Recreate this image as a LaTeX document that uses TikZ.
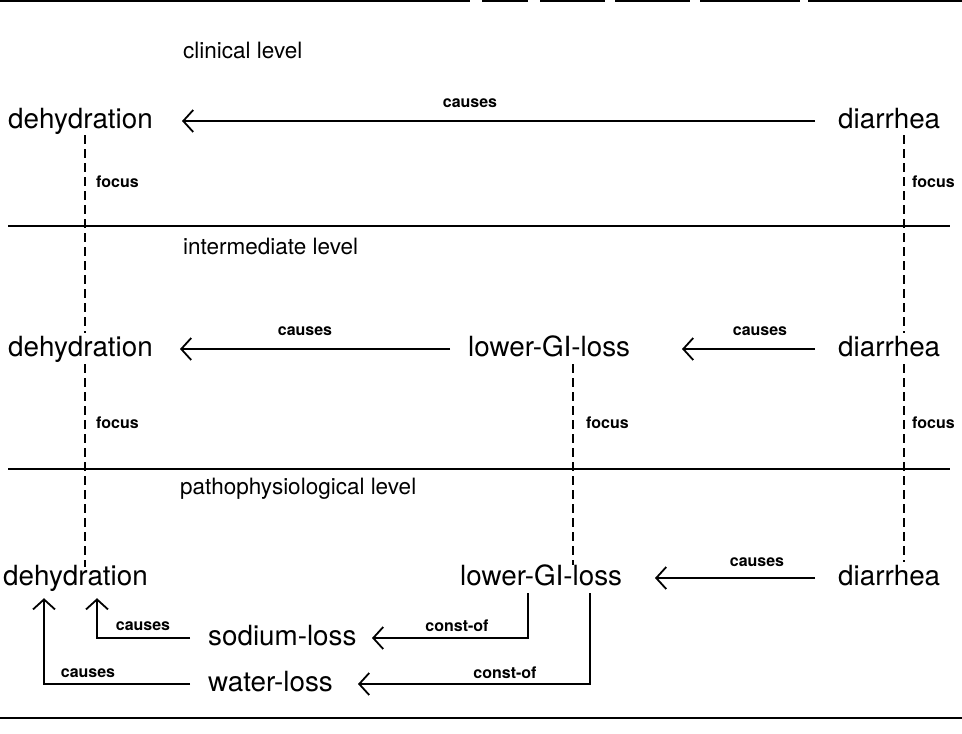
\documentclass[tikz,border=0pt]{standalone}
\usepackage{fontspec}
\setmainfont{TeX Gyre Heros}
\usetikzlibrary{arrows.meta,calc}
\newcommand\mainf{\fontsize{27.8}{30}\selectfont}
\newcommand\lvlf{\fontsize{22.5}{25}\selectfont}
\newcommand\lblf{\fontsize{16}{18}\selectfont\bfseries}
\begin{document}
\begin{tikzpicture}[x=1pt,y=-1pt,
  mainnode/.style={font=\mainf, inner sep=0pt, anchor=base west, text height=20pt, text depth=6pt},
  lvlnode/.style={font=\lvlf, inner sep=0pt, anchor=west},
  lblnode/.style={font=\lblf, inner sep=0pt},
  arr/.style={line width=1.6pt, -{Straight Barb[length=10pt,width=22pt,line width=1.8pt]}},
  plainline/.style={line width=1.6pt},
  focusline/.style={line width=2.6pt, dash pattern=on 9pt off 5pt},
  rule/.style={line width=1.8pt}]
\useasboundingbox (0,0) rectangle (962,734);
\fill[white] (0,0) rectangle (962,734);

% page rules
\draw[rule] (0,1) -- (470,1) (482,1) -- (528,1) (540,1) -- (605,1) (615,1) -- (690,1) (700,1) -- (800,1) (808,1) -- (962,1);
\draw[rule] (0,718) -- (962,718);

% level labels and separators
\node[lvlnode] (lvl1) at (183,50) {clinical level};
\node[lvlnode] (lvl2) at (183,246) {intermediate level};
\node[lvlnode] (lvl3) at (180,489) {pathophysiological level};
\draw[plainline] (8,226) -- (950,226);
\draw[plainline] (8,469) -- (950,469);

% row 1
\node[mainnode] (deh1) at (8,128) {dehydration};
\node[mainnode] (dia1) at (838,128) {diarrhea};
% row 2
\node[mainnode] (deh2) at (8,356) {dehydration};
\node[mainnode] (lgl2) at (468,356) {lower-GI-loss};
\node[mainnode] (dia2) at (838,356) {diarrhea};
% row 3
\node[mainnode] (deh3) at (3,585) {dehydration};
\node[mainnode] (lgl3) at (460,585) {lower-GI-loss};
\node[mainnode] (dia3) at (838,585) {diarrhea};
\node[mainnode] (sod) at (208,645) {sodium-loss};
\node[mainnode] (wat) at (208,691) {water-loss};

% causes arrows
\draw[arr] ($(dia1.west)+(-23,0)$) -- ($(deh1.west)+(174,0)$);
\node[lblnode] (c1) at (470,103) {causes};
\draw[arr] ($(lgl2.west)+(-18,0)$) -- ($(deh2.west)+(172,0)$);
\node[lblnode] (c2) at (305,331) {causes};
\draw[arr] ($(dia2.west)+(-23,0)$) -- ($(lgl2.west)+(214,0)$);
\node[lblnode] (c3) at (760,331) {causes};
\draw[arr] ($(dia3.west)+(-23,0)$) -- ($(lgl3.west)+(195,0)$);
\node[lblnode] (c4) at (757,562) {causes};

% focus links
\draw[focusline] ($(deh1.south west)+(77,1)$) -- ($(deh2.north west)+(77,-3)$);
\draw[focusline] ($(deh2.south west)+(77,2)$) -- ($(deh3.north west)+(82,2)$);
\draw[focusline] ($(dia1.south west)+(66,1)$) -- ($(dia2.north west)+(66,-3)$);
\draw[focusline] ($(dia2.south west)+(66,2)$) -- ($(dia3.north west)+(66,-3)$);
\draw[focusline] ($(lgl2.south west)+(105,2)$) -- ($(lgl3.north west)+(113,0)$);
\node[lblnode, anchor=west] (f1) at (96,182) {focus};
\node[lblnode, anchor=west] (f2) at (912,182) {focus};
\node[lblnode, anchor=west] (f3) at (96,423) {focus};
\node[lblnode, anchor=west] (f4) at (586,423) {focus};
\node[lblnode, anchor=west] (f5) at (912,423) {focus};

% const-of
\draw[arr] ($(lgl3.south west)+(68,2)$) |- ($(sod.west)+(164,0)$);
\node[lblnode] (k1) at (457,626) {const-of};
\draw[arr] ($(lgl3.south west)+(130,2)$) |- ($(wat.west)+(150,0)$);
\node[lblnode] (k2) at (505,673) {const-of};

% causes to dehydration
\draw[arr] ($(sod.west)+(-18,0)$) -| ($(deh3.south west)+(94,7)$);
\node[lblnode] (c5) at (143,626) {causes};
\draw[arr] ($(wat.west)+(-18,0)$) -| ($(deh3.south west)+(41,7)$);
\node[lblnode] (c6) at (88,673) {causes};
\end{tikzpicture}
\end{document}
